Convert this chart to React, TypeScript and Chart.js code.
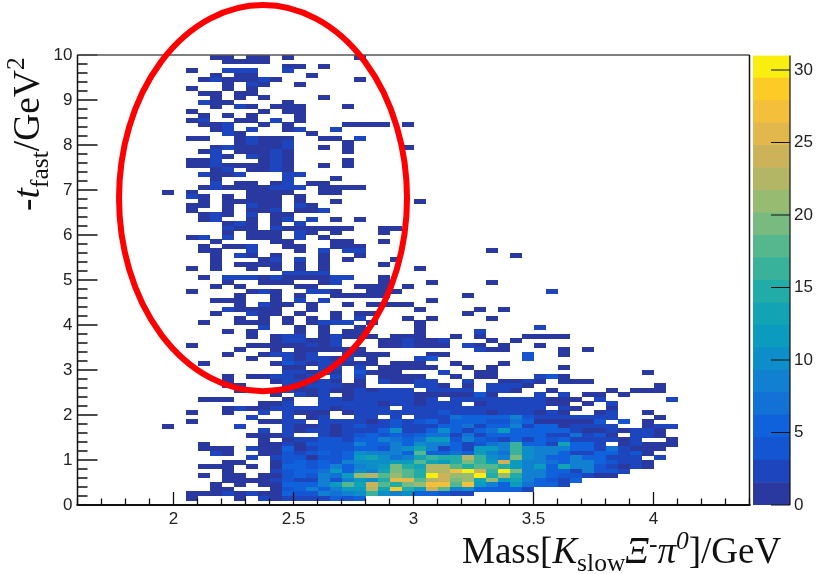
import React, { useEffect, useRef } from "react";
import { Chart, registerables } from "chart.js";

Chart.register(...registerables);

const xTickValues = [2, 2.5, 3, 3.5, 4];
const yTickValues = [0, 1, 2, 3, 4, 5, 6, 7, 8, 9, 10];
const paletteTicks = [0, 5, 10, 15, 20, 25, 30];
const paletteMax = 31;
const binWidth = 0.05;
const binHeight = 0.1;
const xStart = 1.6;

const bandColors = [
  "#2a39a0", "#1d45bd", "#1455d2", "#1061dc", "#1271d4", "#1280d0", "#0e8ec8", "#0a9bbf",
  "#12a4b4", "#22aca8", "#38b29a", "#55b78e", "#78bb80", "#97bb70", "#b2b665", "#ccb35a",
  "#e2b84c", "#f4bf3b", "#fdcb26", "#f8ee10",
];

// Rows run from the top of the plot (y 9.9-10) to the bottom. Tokens: "col" = count 1,
// "col:n" = count n, "col>a,b,c" = consecutive counts starting at col.
const topRows = [
  "11 12 14 15 17 23", "12 13 14 15", "17 18 20", "9 12:3 13:3 14:3 17:3", "11 13 14 19",
  "10 11:3 12 13 14 15:3 16 23", "12 14:3 15 18", "9 12 14", "10 11 13 14", "11 13 15 20",
  "10:3 11 12 17", "11 13:3 14 16 17 18 22", "9 15 17 18", "10 12 14 18", "9 10:3 13 14 16:3 18",
  "10 11 12:3 15 17 22 23 24 25 27", "11 12:3 14:3 17 18:3 21:3", "12:3 13 19",
  "9 10 13 14:3 15 16 17 20 21 23:3", "13 14:3 15 16 17:3 22",
  "11 12:3 13 14 15 16 17:3 20 22 27", "10 11:3 13 14 15 16:3 17 22", "11:3 12 14:3 15 16:3 17",
  "9 10 11:3 15 16:3 17 22", "9 10 11:3 12 13 14 15 16:3 17 20 22", "11 12:3 14 15 16:3 17",
  "10:3 11 12 13:3 17:3 18:3", "11 17:3 21", "11:3 13 14 16 17:3 19 20",
  "10 11:3 12 13 14 15 16:3 17:3 18:3 20 21 22 23",
];
const middleRows = [
  "7 9 14 15 16 17 20 21", "9:3 10 12 14 15 16 18", "10 12 13 14 15 16 18 21 28",
  "9 10 12 14:3 15 16 18:3 19", "9 12 14 15 16:3 18 19 20:3", "10 11:3 12 14:3 16 17",
  "10 11:3 14 16 17:3 19:3 21 23", "12 13:3 14 16 18:3", "12:3 13 14 16:3 17 18 19 20 21 22 25 26",
  "12 14 15 16 18:3 19 21 25", "9 10:3 12:3 14 15 16 18:3 20", "11 16 17 21 22 25",
  "10 12 13 14:3 17 18 21 22 23", "10 11 14:3 18 20:3 22:3 23:3 34", "11 13:3 14 16 20 23 36",
  "11 15 16:3 18:3 20 22 26", "11 13 14 15 16 18 20 25", "9 11 14 16 18 20 28",
  "17:3 18:3 19:3 20:3", "10 12:3 13:3 14:3 15 16:3 17 18 19 20 21:3 22:3 25",
  "12 15 16 17 20 21:3 25 29 34", "11 13 18 19 23 24 25 27", "9 14 15:3 16 19:3 20:3 21 24 25 26 39:3",
  "13 16 18 21 22 23 24 25 32", "11 12 13 16 18:3 20:3 29", "13 15:3 16 17 19 22 24 25 26 27",
  "12:3 13 14 15 16 19 28 33 35", "11 14:3 15 16 18 21 23 24 32", "13 15 17 19 21 23:3 27 29 34",
  "10 13 14 15 17 19 20:3 21:3 22:3 24 28", "15:3 18 20 23 28 38:3", "12 14 18 20 22 23 28 33:3",
  "14 16 17:3 18:3 20 21:3 22 23 24 26 27 28 31 33 37 38 39 40",
  "16 17:3 18:3 19 20 21:3 25 26 27:3 28 29 30:3 34 36",
  "9 14 15 16 17 18 19:3 20 21:3 25 26 27:3 28 29 30 32:3 33 35 38",
  "13 16 18 19 20 21 22 23 33:3 34 35 40 42",
  "12 15 16:3 17:3 18 19:3 22:3 23 24 25 29 30 37:4 40",
  "14 17:3 18 19:3 20:3 21 22:3 24 28:3 29:4 37:4",
  "10 16 17:4 18:3 19 20:3 21:3 22 23 24 26 27 28 31 35",
  "17 18 20:3 21:3 23:3 25 26 27 28 29 32 34 40",
  "17:3 18:3 19 20:3 21 23:4 24 25 26 30:3 33 34 47",
  "12 14 15 16:3 17:3 18 19:3 21:3 23:3 25 26 27 28 31 33 34 38:3 39:4 40",
];
const lowerRows = [
  "12 16 17>3,2,1,2,1,0,1,0,2,1,1,3,2,0,0,2,0,0,1,1,3,1,0,1,1,1",
  "12 13 48 17>3,1,2,2,2,1,1,0,0,0,0,3,2,1,0,1,0,2,2,2,1",
  "13 44 46 47 48 17>2,1,1,2,1,1,2,1,2,2,2,0,2,2,2,2,0,2,3,1,0,0,1",
  "16 18>2,1,3,0,1,3,3,2,3,2,1,1,1,1,1,4,1,0,0,0,2,0,2,0,1,1,0,1",
  "10 11 12 17 20>2,2,1,2,2,3,2,2,1,2,0,3,2,2,2,2,2,2,2,1,1,1,0,3 49:3",
  "15 16 17:2 20>3,3,2,3,2,1,2,2,1,2,2,3,0,1,2,2,2,3,2,1,1,0,1,0,3",
  "12 13:3 14 15 16:3 17>3,2,2,2,1,2,3,3,2,0,2,2,2,3,2,2,2,2,2,2,2,3,0,3,1,0,0,1",
  "9 12 15:3 17>3,1,1,1,0,1,2,2,2,2,3,2,2,4,2,3,2,1,2,2,2,1,3,1,0,0,1,3,0,0,1",
  "14:3 17>3,0,1,3,0,0,2,3,0,2,0,3,3,3,7,5,6,6,6,8,4,2,2,3,3,3,3,3,0,0,0,1",
  "9 15 16 17>3,2,0,3,2,2,3,1,3,4,2,4,5,3,6,5,5,4,4,7,5,1,1,1,1,1,4,0,4,0,1",
  "7 13:3 17>2,1,1,3,1,2,4,3,3,4,3,3,3,5,5,7,3,6,6,8,3,6,5,1,3,3,3,3,0,0,1,3,3",
  "15:3 17>3,1,2,3,1,2,3,3,5,10,3,3,6,10,5,3,5,7,11,6,6,6,5,5,3,1,1,2,1,3,2,1",
  "14 15 16 17>2,0,0,2,1,2,4,5,4,5,4,5,7,7,3,7,2,5,5,5,6,6,3,3,7,2,4,1,0,2,2,1",
  "15 17>1,2,2,4,4,2,5,5,8,7,5,7,12,12,4,8,6,4,2,6,3,5,4,5,2,2,2,2,1,2,0,0,1",
  "10 15 16 17>2,1,4,4,4,4,8,6,5,8,5,10,8,8,6,3,4,7,8,16,6,6,3,13,5,5,3,0,1,2,1,1,1",
  "10 11 12 14:3 15 16 17>5,1,2,4,4,4,5,6,4,8,10,13,8,3,6,3,12,12,9,16,10,8,8,8,5,5,3,7,2,1,1,1",
  "11:3 12 15 16 17>4,2,4,5,4,5,10,8,8,8,6,18,5,5,7,5,12,8,7,16,10,8,8,6,3,2,5,6,3,4,1",
  "14:3 16:3 17>4,4,1,4,4,5,11,13,10,7,8,13,17,15,15,23,17,10,8,20,10,8,6,6,8,5,5,3,2,2,0,3",
  "12 13 16 17>4,5,4,5,4,8,10,10,10,12,12,18,13,12,15,20,17,12,24,12,9,8,7,5,8,8,6,4,3,2,1",
  "10 11 12 14 16 17>5,5,4,5,8,6,8,10,12,20,15,13,23,22,18,15,18,18,15,12,9,12,6,13,8,8,4,3,1,2,1",
  "12 16:3 17>4,5,5,7,11,5,10,8,13,20,18,15,23,23,27,30,24,16,30,20,9,9,6,5,3,8,4,4,2",
  "10 12 13 15 16 17>4,5,4,8,7,12,21,23,18,21,18,14,31,24,21,21,30,15,21,15,8,8,5,4,4,3,1,1",
  "12 13 14 15 16:3 17>4,3,3,9,4,8,12,10,15,25,25,18,23,24,20,21,13,21,11,13,8,6,4,3,5",
  "11 13 15 16 17>5,5,5,8,12,18,13,24,18,14,20,21,27,27,18,27,12,8,6,12,7,5,5,3",
  "11 12 16 17>4,5,8,6,9,12,12,23,13,29,15,12,24,18,8,10,6,6,5,6,3",
  "9 10 11 12:3 13 14:3 15 16 17>5,4,4,9,7,8,10,17,10,9,10,5,5,4,3,3",
  "9 13 15:3 16 17>2,3,2,2,5,4,5",
];

// Red ring, in data units of the main plot.
const ringCenter = { x: 2.373, y: 6.82 };
const ringRadius = { x: 0.6, y: 4.29 };

type Run = { t: string; s: number; st?: string; dy?: number };
const xTitle: Run[] = [
  { t: "Mass[", s: 37 },
  { t: "K", s: 37, st: "italic" },
  { t: "slow", s: 25.5, dy: 8 },
  { t: "Ξ", s: 37, st: "italic" },
  { t: "-", s: 25.5, dy: -11 },
  { t: "π", s: 37, st: "italic" },
  { t: "0", s: 25.5, st: "italic", dy: -14 },
  { t: "]/GeV", s: 37 },
];
const yTitle: Run[] = [
  { t: "-", s: 37.5 },
  { t: "t", s: 37.5, st: "italic" },
  { t: "fast", s: 25.5, dy: 9 },
  { t: "/GeV", s: 37.5 },
  { t: "2", s: 25.5, dy: -15 },
];

function bandOf(v: number) {
  return Math.min(bandColors.length - 1, Math.floor(v / (paletteMax / bandColors.length)));
}

function parseCells() {
  const cells: { x: number; y: number; v: number }[] = [];
  const all = [...topRows, ...middleRows, ...lowerRows];
  all.forEach((row, k) => {
    const y = 10 - binHeight * k - binHeight / 2;
    const push = (c: number, v: number) => {
      if (v > 0) cells.push({ x: xStart + binWidth * c + binWidth / 2, y, v });
    };
    row.split(" ").forEach((tok) => {
      if (tok.includes(">")) {
        const [c, list] = tok.split(">");
        list.split(",").forEach((v, i) => push(Number(c) + i, Number(v)));
      } else {
        const [c, v] = tok.split(":");
        push(Number(c), v ? Number(v) : 1);
      }
    });
  });
  return cells;
}

function makeCellImages() {
  return bandColors.map((color) => {
    const cv = document.createElement("canvas");
    cv.width = 12;
    cv.height = 5;
    const g = cv.getContext("2d")!;
    g.fillStyle = color;
    g.fillRect(0, 0, 12, 5);
    return cv;
  });
}

function drawRuns(ctx: CanvasRenderingContext2D, runs: Run[]) {
  let x = 0;
  ctx.fillStyle = "#111";
  ctx.textBaseline = "alphabetic";
  ctx.textAlign = "left";
  for (const r of runs) {
    ctx.font = `${r.st ?? "normal"} ${r.s}px "Liberation Serif"`;
    ctx.fillText(r.t, x, r.dy ?? 0);
    x += ctx.measureText(r.t).width;
  }
}

const mainDecor = {
  id: "mainDecor",
  afterDatasetsDraw(chart: any) {
    const { ctx, chartArea: a, scales } = chart;
    const sx = scales.x;
    const sy = scales.y;
    ctx.save();
    ctx.strokeStyle = "#111";
    ctx.lineWidth = 1.3;
    ctx.beginPath();
    for (let i = 0; i <= 28; i++) {
      const px = sx.getPixelForValue(xStart + i * 0.1);
      const len = (i + 1) % 5 === 0 ? 13 : 6.5;
      ctx.moveTo(px, a.bottom);
      ctx.lineTo(px, a.bottom - len);
    }
    for (let i = 0; i <= 50; i++) {
      const py = sy.getPixelForValue(i * 0.2);
      const len = i % 5 === 0 ? 20 : 10;
      ctx.moveTo(a.left, py);
      ctx.lineTo(a.left + len, py);
    }
    ctx.stroke();
    ctx.strokeStyle = "#555";
    ctx.lineWidth = 1.6;
    ctx.beginPath();
    ctx.moveTo(a.left, a.top);
    ctx.lineTo(a.right, a.top);
    ctx.stroke();
    ctx.strokeStyle = "#111";
    ctx.lineWidth = 1.5;
    ctx.beginPath();
    ctx.moveTo(a.left, a.top);
    ctx.lineTo(a.left, a.bottom);
    ctx.moveTo(a.right, a.top);
    ctx.lineTo(a.right, a.bottom);
    ctx.stroke();
    ctx.lineWidth = 2;
    ctx.beginPath();
    ctx.moveTo(a.left - 1, a.bottom);
    ctx.lineTo(a.right + 1, a.bottom);
    ctx.stroke();

    const cx = sx.getPixelForValue(ringCenter.x);
    const cy = sy.getPixelForValue(ringCenter.y);
    const rx = Math.abs(sx.getPixelForValue(ringCenter.x + ringRadius.x) - cx);
    const ry = Math.abs(sy.getPixelForValue(ringCenter.y + ringRadius.y) - cy);
    ctx.strokeStyle = "#fe0000";
    ctx.lineWidth = 6;
    ctx.beginPath();
    ctx.ellipse(cx, cy, rx, ry, 0, 0, Math.PI * 2);
    ctx.stroke();

    ctx.save();
    ctx.translate(462, 563);
    drawRuns(ctx, xTitle);
    ctx.restore();
    ctx.save();
    ctx.translate(39, 211);
    ctx.rotate(-Math.PI / 2);
    drawRuns(ctx, yTitle);
    ctx.restore();
    ctx.restore();
  },
};

const paletteDecor = {
  id: "paletteDecor",
  afterDatasetsDraw(chart: any) {
    const { ctx, chartArea: a, scales } = chart;
    ctx.save();
    ctx.strokeStyle = "#111";
    ctx.lineWidth = 1.2;
    ctx.beginPath();
    paletteTicks.forEach((t) => {
      const py = scales.y.getPixelForValue(t);
      ctx.moveTo(a.right, py);
      ctx.lineTo(a.right - 19, py);
    });
    ctx.moveTo(a.right, a.top);
    ctx.lineTo(a.right, a.bottom);
    ctx.stroke();
    ctx.restore();
  },
};

const tickFont = { family: '"Liberation Sans"', size: 17 };
const hiddenGrid = { display: false, drawTicks: false };

export default function App() {
  const mainRef = useRef<HTMLCanvasElement>(null);
  const paletteRef = useRef<HTMLCanvasElement>(null);

  useEffect(() => {
    const images = makeCellImages();
    const main = new Chart(mainRef.current!, {
      type: "scatter",
      data: {
        datasets: [
          {
            data: parseCells() as any,
            pointStyle: (c: any) => images[bandOf(c.raw.v)],
            pointRadius: 3,
            clip: false,
          } as any,
        ],
      },
      options: {
        animation: false,
        responsive: false,
        events: [],
        layout: { padding: { left: 0, top: 55, right: 68.5, bottom: 0 } },
        plugins: { legend: { display: false }, tooltip: { enabled: false } },
        scales: {
          x: {
            type: "linear",
            min: 1.6,
            max: 4.4,
            grid: hiddenGrid,
            border: { display: false },
            afterBuildTicks: (s: any) => {
              s.ticks = xTickValues.map((value) => ({ value }));
            },
            afterFit: (s: any) => {
              s.height = 69;
            },
            ticks: {
              font: tickFont,
              color: "#222",
              padding: 4,
              maxRotation: 0,
              autoSkip: false,
              callback: (v: any) => String(v),
            },
          },
          y: {
            type: "linear",
            min: 0,
            max: 10,
            grid: hiddenGrid,
            border: { display: false },
            afterBuildTicks: (s: any) => {
              s.ticks = yTickValues.map((value) => ({ value }));
            },
            afterFit: (s: any) => {
              s.width = 77.5;
            },
            ticks: { font: tickFont, color: "#222", padding: 5, autoSkip: false },
          },
        },
      },
      plugins: [mainDecor],
    } as any);

    const palette = new Chart(paletteRef.current!, {
      type: "bar",
      data: {
        labels: ["counts"],
        datasets: bandColors.map((color, i) => ({
          data: [[(i * paletteMax) / bandColors.length, ((i + 1) * paletteMax) / bandColors.length]],
          backgroundColor: color,
          borderWidth: 0,
          barPercentage: 1,
          categoryPercentage: 1,
          grouped: false,
        })) as any,
      },
      options: {
        animation: false,
        responsive: false,
        events: [],
        layout: { padding: { left: 1, top: 55.5, right: 0, bottom: 69 } },
        plugins: { legend: { display: false }, tooltip: { enabled: false } },
        scales: {
          x: { display: false, stacked: false },
          y: {
            type: "linear",
            position: "right",
            min: 0,
            max: paletteMax,
            grid: hiddenGrid,
            border: { display: false },
            afterBuildTicks: (s: any) => {
              s.ticks = paletteTicks.map((value) => ({ value }));
            },
            afterFit: (s: any) => {
              s.width = 28;
            },
            ticks: { font: tickFont, color: "#222", padding: 4, autoSkip: false },
          },
        },
      },
      plugins: [paletteDecor],
    } as any);

    return () => {
      main.destroy();
      palette.destroy();
    };
  }, []);

  return (
    <div style={{ position: "absolute", left: 0, top: 0, width: 818, height: 574, background: "#fff", overflow: "hidden" }}>
      <canvas ref={mainRef} width={818} height={574} style={{ position: "absolute", left: 0, top: 0 }} />
      <canvas ref={paletteRef} width={66} height={574} style={{ position: "absolute", left: 752, top: 0 }} />
    </div>
  );
}
